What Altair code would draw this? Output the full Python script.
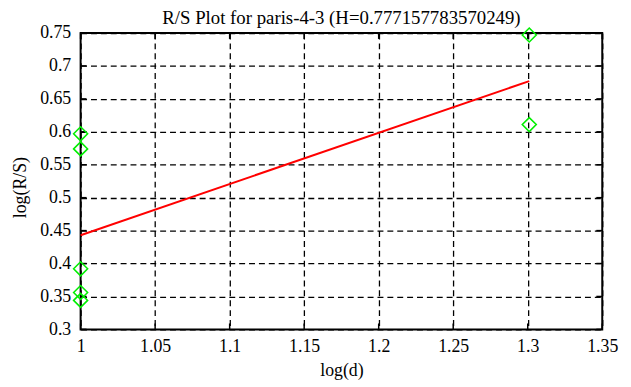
import altair as alt
import pandas as pd

# data
pt_x = [1, 1, 1, 1, 1, 1.30103, 1.30103]
pt_y = [0.597, 0.574, 0.392, 0.356, 0.344, 0.747, 0.611]
fit_x = [1, 1.30103]
fit_y = [0.443, 0.677]
x_ticks = [1, 1.05, 1.1, 1.15, 1.2, 1.25, 1.3, 1.35]
y_ticks = [0.3, 0.35, 0.4, 0.45, 0.5, 0.55, 0.6, 0.65, 0.7, 0.75]
title_text = ["R/S Plot for paris-4-3 (H=0.777157783570249)"]

W, H = 528, 300
FONT = "Liberation Serif"
FS = 18

pts = pd.DataFrame({"x": pt_x, "y": pt_y})
fit = pd.DataFrame({"x": fit_x, "y": fit_y})
xt = pd.DataFrame({"x": x_ticks})
yt = pd.DataFrame({"y": y_ticks})
tt = pd.DataFrame({"t": title_text})

xscale = alt.Scale(domain=[1, 1.35], nice=False, zero=False)
yscale = alt.Scale(domain=[0.3, 0.75], nice=False, zero=False)

xaxis = alt.Axis(values=x_ticks, format=".2~f", title="log(d)", labelPadding=8,
                 titleY=42, titleBaseline="middle", labelFont=FONT)
yaxis = alt.Axis(values=y_ticks, format=".2~f", title="log(R/S)", labelPadding=10,
                 titleX=-61, titleY=156, titleBaseline="middle", labelFont=FONT)


def X(f="x"):
    return alt.X(f + ":Q", scale=xscale, axis=xaxis)


def Y(f="y"):
    return alt.Y(f + ":Q", scale=yscale, axis=yaxis)


line = alt.Chart(fit).mark_line(color="#ff0000", strokeWidth=2).encode(x=X(), y=Y())
points = alt.Chart(pts).mark_point(shape="diamond", filled=False, color="#00ee00",
                                   size=200, strokeWidth=1.6, opacity=1,
                                   clip=False).encode(x=X(), y=Y())
tick_style = dict(color="black", strokeWidth=1.5)
xt_top = alt.Chart(xt).mark_rule(**tick_style).encode(
    x=X(), y=alt.value(0), y2=alt.value(6))
xt_bot = alt.Chart(xt).mark_rule(**tick_style).encode(
    x=X(), y=alt.value(H), y2=alt.value(H - 6))
yt_left = alt.Chart(yt).mark_rule(**tick_style).encode(
    y=Y(), x=alt.value(0), x2=alt.value(6))
yt_right = alt.Chart(yt).mark_rule(**tick_style).encode(
    y=Y(), x=alt.value(W), x2=alt.value(W - 6))
title = alt.Chart(tt).mark_text(font=FONT, fontSize=19, color="black",
                                align="center", baseline="alphabetic").encode(
    text="t:N", x=alt.value(W / 2), y=alt.value(-9))

chart = alt.layer(line, xt_top, xt_bot, yt_left, yt_right, points, title).properties(
    width=W, height=H,
    background="white",
    autosize=alt.AutoSizeParams(type="none"),
    padding={"left": 73.5, "top": 23, "right": 21, "bottom": 56},
).configure_view(stroke="black", strokeWidth=2).configure_axis(
    grid=True, gridDash=[6, 4], gridColor="black", gridWidth=1.3,
    gridOpacity=1, ticks=False, domain=False, labelOverlap=False,
    labelFont=FONT, labelFontSize=FS, labelColor="black",
    titleFont=FONT, titleFontSize=FS, titleFontWeight="normal",
    titleColor="black", labelFlush=False)

chart.save("out.html", embed_options={"renderer": "svg", "actions": False})
